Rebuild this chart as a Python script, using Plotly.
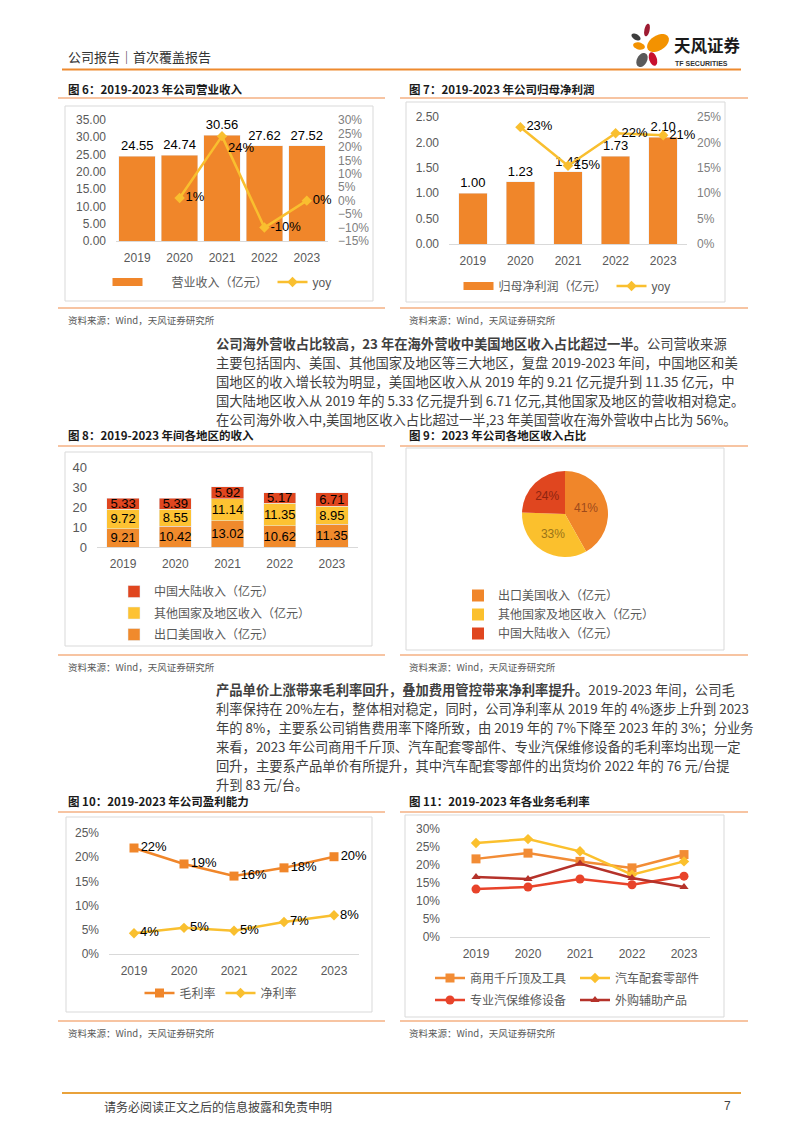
import math
import plotly.graph_objects as go

# ---------------- data ----------------
years = ['2019', '2020', '2021', '2022', '2023']
revenue = [24.55, 24.74, 30.56, 27.62, 27.52]          # 营业收入（亿元）
revenue_yoy = [None, 1, 24, -10, 0]                    # %
net_profit = [1.00, 1.23, 1.42, 1.73, 2.10]            # 归母净利润（亿元）
net_profit_yoy = [None, 23, 15.4, 21.8, 21.4]          # %
rev_us = [9.21, 10.42, 13.02, 10.62, 11.35]            # 出口美国收入
rev_other = [9.72, 8.55, 11.14, 11.35, 8.95]           # 其他国家及地区收入
rev_cn = [5.33, 5.39, 5.92, 5.17, 6.71]                # 中国大陆收入
share_labels = ['出口美国收入（亿元）', '其他国家及地区收入（亿元）', '中国大陆收入（亿元）']
share_2023 = [41, 33, 24]                              # %
gross_margin = [21.9, 18.6, 16.1, 17.8, 20.1]          # 毛利率 %
net_margin = [4.3, 5.4, 4.8, 6.6, 8.0]                 # 净利率 %
seg_jack = [21.7, 23.3, 21.0, 19.2, 22.9]              # 商用千斤顶及工具
seg_auto = [26.1, 27.2, 23.8, 17.3, 21.0]              # 汽车配套零部件
seg_equip = [13.3, 13.9, 16.1, 14.5, 16.9]             # 专业汽保维修设备
seg_outs = [16.7, 16.1, 20.4, 16.4, 13.9]              # 外购辅助产品

# ---------------- helpers ----------------
W, H = 802, 1133
def X(p): return p / W
def Y(p): return 1 - p / H

FONT = "Liberation Sans, Arial, Noto Sans CJK SC, sans-serif"
CJKF = "Noto Sans CJK SC, Liberation Sans, sans-serif"
ORANGE = '#F0862A'
YELLOW = '#F9BF2F'
RED = '#E0461F'
GRAYTXT = '#595959'

ann, shapes = [], []

def txt(x, y, s, size, color='#404040', family=CJKF, anchor='left'):
    ann.append(dict(x=X(x), y=Y(y), xref='paper', yref='paper', text=s, showarrow=False,
                    xanchor=anchor, yanchor='middle', font=dict(size=size, color=color, family=family)))

def hline(x0, x1, y, color, w):
    shapes.append(dict(type='line', xref='paper', yref='paper', x0=X(x0), x1=X(x1), y0=Y(y), y1=Y(y),
                       line=dict(color=color, width=w)))

def box(x0, y0, x1, y1):
    shapes.append(dict(type='rect', xref='paper', yref='paper', x0=X(x0), x1=X(x1), y0=Y(y1), y1=Y(y0),
                       line=dict(color='#D9D9D9', width=1), fillcolor='rgba(0,0,0,0)', layer='below'))

def petal(cx, cy, rx, ry, ang, color, n=28):
    a = math.radians(ang)
    pts = []
    for i in range(n):
        t = 2 * math.pi * i / n
        ex, ey = rx * math.cos(t), ry * math.sin(t)
        px = cx + ex * math.cos(a) - ey * math.sin(a)
        py = cy + ex * math.sin(a) + ey * math.cos(a)
        pts.append(f'{X(px):.5f},{Y(py):.5f}')
    shapes.append(dict(type='path', xref='paper', yref='paper', path='M ' + ' L '.join(pts) + ' Z',
                       fillcolor=color, line=dict(width=0)))

# ---------------- page furniture ----------------
txt(66, 57, '公司报告｜首次覆盖报告', 13, '#333333')
petal(647, 30, 2.6, 6.5, 12, '#9E1B32')
petal(636, 37, 5, 2.8, 30, '#3D3D3D')
petal(658, 43, 12, 7.5, -32, '#F39200')
petal(639, 46, 6, 3.5, 15, '#F39200')
petal(653, 59, 3.8, 7, -18, '#C8102E')
petal(642, 60, 5, 7.5, 28, '#5A5A5A')
txt(672, 45, '<b>天风证券</b>', 16.5, '#1a1a1a', anchor='left')
txt(673, 63, '<b>TF SECURITIES</b>', 7, '#333333', family=FONT)
hline(62, 741, 69.5, '#EE8A2E', 2)

TITLE_C = '#1a1a1a'
UL = '#F4B183'
titles = [(66, 89, '图 6：2019-2023 年公司营业收入'), (407, 89, '图 7：2019-2023 年公司归母净利润'),
          (66, 435, '图 8：2019-2023 年间各地区的收入'), (407, 435, '图 9：2023 年公司各地区收入占比'),
          (66, 801, '图 10：2019-2023 年公司盈利能力'), (407, 801, '图 11：2019-2023 年各业务毛利率')]
for x, y, s in titles:
    txt(x, y, '<b>' + s + '</b>', 11.5, TITLE_C)
for y in (98, 446, 812):
    hline(58, 385, y, UL, 1.5)
    hline(400, 748, y, UL, 1.5)
for y in (308, 655, 1021):
    hline(58, 385, y, UL, 1.5)
    hline(400, 748, y, UL, 1.5)
for y in (320, 667, 1033):
    txt(66, y, '资料来源：Wind，天风证券研究所', 9.5, GRAYTXT)
    txt(407, y, '资料来源：Wind，天风证券研究所', 9.5, GRAYTXT)

box(65, 106, 373, 301)
box(406, 102, 725, 302)
box(65, 452, 372, 646)
box(406, 448, 724, 650)
box(66, 817, 372, 1012)
box(405, 815, 724, 1017)

para1 = ['<b>公司海外营收占比较高，23 年在海外营收中美国地区收入占比超过一半。</b>公司营收来源',
         '主要包括国内、美国、其他国家及地区等三大地区，复盘 2019-2023 年间，中国地区和美',
         '国地区的收入增长较为明显，美国地区收入从 2019 年的 9.21 亿元提升到 11.35 亿元，中',
         '国大陆地区收入从 2019 年的 5.33 亿元提升到 6.71 亿元,其他国家及地区的营收相对稳定。',
         '在公司海外收入中,美国地区收入占比超过一半,23 年美国营收在海外营收中占比为 56%。']
for i, s in enumerate(para1):
    txt(214, 344 + i * 18.8, s, 13.3, '#404040')
para2 = ['<b>产品单价上涨带来毛利率回升，叠加费用管控带来净利率提升。</b>2019-2023 年间，公司毛',
         '利率保持在 20%左右，整体相对稳定，同时，公司净利率从 2019 年的 4%逐步上升到 2023',
         '年的 8%，主要系公司销售费用率下降所致，由 2019 年的 7%下降至 2023 年的 3%；分业务',
         '来看，2023 年公司商用千斤顶、汽车配套零部件、专业汽保维修设备的毛利率均出现一定',
         '回升，主要系产品单价有所提升，其中汽车配套零部件的出货均价 2022 年的 76 元/台提',
         '升到 83 元/台。']
for i, s in enumerate(para2):
    txt(214, 689 + i * 19, s, 13.3, '#404040')

hline(62, 741, 1093, '#E9A23B', 2)
txt(102, 1106, '请务必阅读正文之后的信息披露和免责申明', 12, '#404040')
txt(733, 1106, '7', 12, '#404040', family=FONT, anchor='right')

# ---------------- traces ----------------
fig = go.Figure()
LBL = dict(size=13, color='#000000', family=FONT)

# Fig 6
fig.add_trace(go.Bar(x=years, y=revenue, xaxis='x', yaxis='y', marker_color=ORANGE, width=0.86,
                     text=[f'{v:.2f}' for v in revenue], textposition='outside', textfont=LBL,
                     constraintext='none', cliponaxis=False, showlegend=False))
fig.add_trace(go.Scatter(x=[None], y=[None], xaxis='x', yaxis='y', mode='lines',
                         line=dict(color=ORANGE, width=8), name='\u3000\u3000营业收入（亿元）', legend='legend'))
yoy_pos = ['middle right', 'middle right', 'bottom right', 'middle right', 'middle right']
fig.add_trace(go.Scatter(x=years, y=revenue_yoy, xaxis='x', yaxis='y2', mode='lines+markers+text',
                         line=dict(color=YELLOW, width=2.5), marker=dict(symbol='diamond', size=8, color=YELLOW),
                         text=['' if v is None else f'{v:.0f}%' for v in revenue_yoy], textposition=yoy_pos,
                         textfont=LBL, cliponaxis=False, name='yoy', legend='legend'))

# Fig 7
fig.add_trace(go.Bar(x=years, y=net_profit, xaxis='x2', yaxis='y3', marker_color=ORANGE, width=0.6,
                     text=[f'{v:.2f}' for v in net_profit], textposition='outside', textfont=LBL,
                     constraintext='none', cliponaxis=False, showlegend=False))
fig.add_trace(go.Scatter(x=[None], y=[None], xaxis='x2', yaxis='y3', mode='lines',
                         line=dict(color=ORANGE, width=8), name='归母净利润（亿元）', legend='legend2'))
fig.add_trace(go.Scatter(x=years, y=net_profit_yoy, xaxis='x2', yaxis='y4', mode='lines+markers+text',
                         line=dict(color=YELLOW, width=2.5), marker=dict(symbol='diamond', size=8, color=YELLOW),
                         text=['' if v is None else f'{v:.0f}%' for v in net_profit_yoy], textposition='middle right',
                         textfont=LBL, cliponaxis=False, name='yoy', legend='legend2'))

# Fig 8 (stacked)
for vals, name, col, rank in [(rev_us, share_labels[0], '#F08A2C', 3), (rev_other, share_labels[1], '#FDC232', 2),
                              (rev_cn, share_labels[2], RED, 1)]:
    fig.add_trace(go.Bar(x=years, y=vals, xaxis='x3', yaxis='y5', marker_color=col, width=0.62, name=name,
                         text=[f'{v:.2f}' for v in vals], textposition='inside', insidetextanchor='middle',
                         textfont=LBL, constraintext='none', legend='legend3', legendgroup=name,
                         legendrank=rank))

# Fig 9 pie
fig.add_trace(go.Pie(values=share_2023, labels=share_labels, text=[f'{v}%' for v in share_2023],
                     textinfo='text', sort=False, direction='clockwise', rotation=0,
                     marker=dict(colors=[ORANGE, '#FBC02D', RED], line=dict(width=0)),
                     textfont=dict(size=12, color=['#9E4A1C', '#9A7418', '#8E2410'], family=FONT),
                     insidetextorientation='horizontal', textposition='inside',
                     domain=dict(x=[X(522), X(608)], y=[Y(557), Y(471)]), legend='legend4'))

# Fig 10
fig.add_trace(go.Scatter(x=years, y=gross_margin, xaxis='x4', yaxis='y6', mode='lines+markers+text',
                         line=dict(color=ORANGE, width=2.5), marker=dict(symbol='square', size=9, color=ORANGE),
                         texttemplate='%{y:.0f}%', textposition='middle right', textfont=LBL,
                         cliponaxis=False, name='毛利率', legend='legend5'))
fig.add_trace(go.Scatter(x=years, y=net_margin, xaxis='x4', yaxis='y6', mode='lines+markers+text',
                         line=dict(color=YELLOW, width=2.5), marker=dict(symbol='diamond', size=8, color=YELLOW),
                         texttemplate='%{y:.0f}%', textposition='middle right', textfont=LBL,
                         cliponaxis=False, name='净利率', legend='legend5'))

# Fig 11
segs = [(seg_jack, '商用千斤顶及工具', '#F28C35', 'square', 9, 'legend6'),
        (seg_auto, '汽车配套零部件', '#FBC02D', 'diamond', 8, 'legend6'),
        (seg_equip, '专业汽保维修设备', '#E8432A', 'circle', 9, 'legend7'),
        (seg_outs, '外购辅助产品', '#B5322A', 'triangle-up', 8, 'legend7')]
for vals, name, col, sym, sz, lg in segs:
    fig.add_trace(go.Scatter(x=years, y=vals, xaxis='x5', yaxis='y7', mode='lines+markers',
                             line=dict(color=col, width=2.5), marker=dict(symbol=sym, size=sz, color=col),
                             cliponaxis=False, name=name, legend=lg))

# ---------------- axes ----------------
TF = dict(size=12, color=GRAYTXT, family=FONT)
def xax(x0, x1, anchor):
    return dict(domain=[X(x0), X(x1)], anchor=anchor, type='category', range=[-0.5, 4.5],
                showline=True, linecolor='#D9D9D9', linewidth=1, showgrid=False, zeroline=False,
                ticks='', tickfont=TF, ticklabelstandoff=6, fixedrange=True, automargin=False)
def yax(y_top, y_bot, anchor, rng, dtick, fmt='', suffix='', size=12):
    return dict(domain=[Y(y_bot), Y(y_top)], anchor=anchor, range=rng, dtick=dtick, tickformat=fmt,
                ticksuffix=suffix, showline=False, showgrid=False, zeroline=False, ticks='',
                tickfont=dict(size=size, color=GRAYTXT, family=FONT), ticklabelstandoff=9,
                automargin=False)

RT = dict(size=12, color='#808080', family="Liberation Sans Narrow, Liberation Sans, sans-serif")

def leg(x, y, orient='h', xanchor='center', yanchor='middle', **kw):
    d = dict(x=X(x), y=Y(y), xanchor=xanchor, yanchor=yanchor, orientation=orient, bgcolor='rgba(0,0,0,0)',
             font=dict(size=12, color=GRAYTXT, family=FONT), itemwidth=30, itemclick=False,
             traceorder='normal')
    d.update(kw)
    return d

fig.update_layout(
    width=W, height=H, margin=dict(l=0, r=0, t=0, b=0, pad=0, autoexpand=False),
    paper_bgcolor='white', plot_bgcolor='white',
    barmode='stack', annotations=ann, shapes=shapes, font=dict(family=FONT),
    xaxis=xax(116, 328, 'y'),
    yaxis=yax(120, 241, 'x', [0, 35], 5, '.2f'),
    yaxis2=dict(overlaying='y', side='right', anchor='x', range=[-15, 30], dtick=5, ticksuffix='%',
                showgrid=False, zeroline=False, ticks='', tickfont=RT, ticklabelstandoff=9, automargin=False),
    xaxis2=xax(449, 687, 'y3'),
    yaxis3=yax(117, 244, 'x2', [0, 2.5], 0.5, '.2f'),
    yaxis4=dict(overlaying='y3', side='right', anchor='x2', range=[0, 25], dtick=5, ticksuffix='%',
                showgrid=False, zeroline=False, ticks='', tickfont=RT, ticklabelstandoff=9, automargin=False),
    xaxis3=xax(97, 358, 'y5'),
    yaxis5=yax(467, 547, 'x3', [0, 40], 10, size=13),
    xaxis4=xax(109, 359, 'y6'),
    yaxis6=yax(833, 954, 'x4', [0, 25], 5, suffix='%'),
    xaxis5=xax(450, 710, 'y7'),
    yaxis7=yax(829, 937, 'x5', [0, 30], 5, suffix='%'),
    legend=leg(222, 282),
    legend2=leg(567, 286),
    legend3=leg(114, 577, orient='v', xanchor='left', yanchor='top', traceorder='grouped', tracegroupgap=2.5),
    legend4=leg(458, 581, orient='v', xanchor='left', yanchor='top'),
    legend5=leg(221, 993),
    legend6=leg(430, 978, xanchor='left', entrywidth=100, entrywidthmode='pixels'),
    legend7=leg(430, 1000, xanchor='left', entrywidth=100, entrywidthmode='pixels'),
)

fig.write_html('out.html', config={'displayModeBar': False},
               post_script="document.body.style.margin='0';document.body.style.padding='0';"
                           "document.documentElement.style.overflow='hidden';")
